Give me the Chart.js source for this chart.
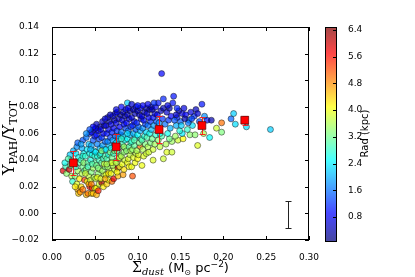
<!DOCTYPE html>
<html>
<head>
<meta charset="utf-8">
<script src="https://cdn.jsdelivr.net/npm/chart.js@4.4.0/dist/chart.umd.min.js"></script>
<style>
  html, body { margin: 0; padding: 0; background: #fff; }
  #grafico { display: block; }
</style>
</head>
<body>
<canvas id="grafico" width="415" height="277"></canvas>
<script>
// dados (uma linha = uma faixa de Sigma_dust)
const sigmaDust = [
  0.013, 0.016, 0.017, 0.015,
  0.020, 0.022, 0.021, 0.023, 0.024, 0.022, 0.025, 0.019,
  0.027, 0.028, 0.029, 0.030, 0.031, 0.029, 0.032, 0.030, 0.028, 0.031, 0.032, 0.030,
  0.034, 0.035, 0.036, 0.034, 0.037, 0.035, 0.036, 0.038, 0.033, 0.037, 0.038, 0.034, 0.036,
  0.040, 0.042, 0.044, 0.041, 0.043, 0.040, 0.042, 0.039, 0.041, 0.043, 0.040, 0.044, 0.042, 0.044, 0.039, 0.043,
  0.046, 0.048, 0.047, 0.050, 0.045, 0.049, 0.046, 0.048, 0.050, 0.045, 0.047, 0.049, 0.046, 0.048, 0.050, 0.046, 0.049, 0.047, 0.050, 0.045,
  0.052, 0.052, 0.055, 0.051, 0.054, 0.056, 0.052, 0.055, 0.053, 0.051, 0.056, 0.053, 0.055, 0.052, 0.054, 0.056, 0.051, 0.054, 0.056, 0.053,
  0.058, 0.060, 0.057, 0.061, 0.059, 0.062, 0.058, 0.060, 0.057, 0.061, 0.059, 0.062, 0.058, 0.060, 0.057, 0.061, 0.059, 0.062, 0.058, 0.061,
  0.064, 0.066, 0.063, 0.067, 0.065, 0.068, 0.064, 0.066, 0.063, 0.067, 0.065, 0.068, 0.064, 0.066, 0.063, 0.067, 0.065, 0.068, 0.064, 0.066,
  0.070, 0.072, 0.069, 0.073, 0.071, 0.074, 0.070, 0.072, 0.069, 0.073, 0.071, 0.074, 0.070, 0.072, 0.069, 0.073, 0.071, 0.074, 0.070, 0.073,
  0.077, 0.077, 0.076, 0.079, 0.075, 0.078, 0.080, 0.076, 0.079, 0.075, 0.078, 0.080, 0.076, 0.079, 0.075, 0.078, 0.080, 0.076, 0.079, 0.077,
  0.083, 0.084, 0.082, 0.085, 0.081, 0.084, 0.086, 0.082, 0.085, 0.083, 0.081, 0.086, 0.084, 0.082, 0.085, 0.083, 0.086, 0.088, 0.084, 0.081,
  0.088, 0.090, 0.093, 0.089, 0.091, 0.087, 0.090, 0.092, 0.088, 0.091, 0.089, 0.092, 0.087, 0.090, 0.088, 0.091, 0.089, 0.092, 0.088,
  0.094, 0.097, 0.095, 0.098, 0.094, 0.096, 0.093, 0.097, 0.095, 0.098, 0.094, 0.096, 0.093, 0.097, 0.095, 0.098, 0.096,
  0.100, 0.103, 0.101, 0.099, 0.102, 0.104, 0.100, 0.103, 0.101, 0.099, 0.104, 0.102, 0.100, 0.103, 0.105,
  0.107, 0.110, 0.106, 0.109, 0.105, 0.108, 0.110, 0.106, 0.109, 0.107, 0.105, 0.108, 0.110, 0.106,
  0.113, 0.112, 0.115, 0.111, 0.114, 0.116, 0.112, 0.115, 0.113, 0.111, 0.114, 0.116,
  0.118, 0.118, 0.120, 0.117, 0.121, 0.119, 0.122, 0.118, 0.120, 0.117, 0.121,
  0.124, 0.130, 0.128, 0.126, 0.130, 0.124, 0.128, 0.125, 0.129, 0.123, 0.127, 0.130, 0.126,
  0.134, 0.140, 0.140, 0.133, 0.137, 0.135, 0.138, 0.132, 0.136, 0.139, 0.134, 0.137, 0.141, 0.142,
  0.147, 0.153, 0.152, 0.144, 0.149, 0.145, 0.150, 0.146, 0.152, 0.148, 0.154, 0.143,
  0.161, 0.167, 0.158, 0.164, 0.160, 0.166, 0.162, 0.168, 0.170, 0.172, 0.175, 0.178, 0.177, 0.170,
  0.181, 0.186, 0.184, 0.192, 0.198, 0.198, 0.209, 0.212, 0.214, 0.227, 0.255,
  0.062, 0.068, 0.075, 0.081, 0.093, 0.100, 0.112, 0.119, 0.135, 0.146, 0.156, 0.159, 0.151, 0.163, 0.145, 0.155, 0.052, 0.048, 0.044, 0.040,
  0.036, 0.046, 0.054, 0.027, 0.062
];
const ratio = [
  0.032, 0.035, 0.030, 0.038,
  0.033, 0.040, 0.044, 0.028, 0.024, 0.036, 0.047, 0.041,
  0.028, 0.045, 0.050, 0.018, 0.015, 0.022, 0.038, 0.032, 0.035, 0.042, 0.026, 0.053,
  0.020, 0.030, 0.035, 0.040, 0.045, 0.049, 0.055, 0.025, 0.016, 0.038, 0.032, 0.052, 0.043,
  0.014, 0.015, 0.020, 0.024, 0.028, 0.033, 0.038, 0.043, 0.048, 0.052, 0.057, 0.060, 0.035, 0.045, 0.030, 0.022,
  0.015, 0.015, 0.019, 0.019, 0.025, 0.027, 0.031, 0.034, 0.038, 0.040, 0.044, 0.047, 0.051, 0.055, 0.058, 0.061, 0.063, 0.037, 0.043, 0.048,
  0.014, 0.019, 0.022, 0.026, 0.030, 0.033, 0.036, 0.040, 0.043, 0.046, 0.049, 0.052, 0.056, 0.059, 0.062, 0.065, 0.064, 0.034, 0.044, 0.027,
  0.023, 0.020, 0.026, 0.029, 0.032, 0.035, 0.038, 0.041, 0.045, 0.048, 0.051, 0.054, 0.057, 0.060, 0.063, 0.066, 0.069, 0.043, 0.047, 0.037,
  0.022, 0.025, 0.029, 0.032, 0.035, 0.038, 0.041, 0.044, 0.048, 0.051, 0.054, 0.057, 0.060, 0.063, 0.066, 0.069, 0.072, 0.046, 0.037, 0.030,
  0.024, 0.026, 0.030, 0.033, 0.036, 0.039, 0.042, 0.045, 0.049, 0.052, 0.055, 0.058, 0.061, 0.064, 0.067, 0.070, 0.073, 0.075, 0.038, 0.047,
  0.028, 0.034, 0.031, 0.035, 0.038, 0.041, 0.044, 0.047, 0.050, 0.053, 0.056, 0.059, 0.062, 0.065, 0.068, 0.071, 0.074, 0.076, 0.042, 0.058,
  0.029, 0.033, 0.037, 0.040, 0.043, 0.046, 0.049, 0.052, 0.055, 0.058, 0.061, 0.064, 0.067, 0.070, 0.073, 0.076, 0.078, 0.083, 0.050, 0.056,
  0.038, 0.035, 0.035, 0.041, 0.044, 0.047, 0.050, 0.053, 0.056, 0.059, 0.062, 0.065, 0.068, 0.071, 0.074, 0.077, 0.079, 0.047, 0.060,
  0.028, 0.038, 0.042, 0.045, 0.048, 0.051, 0.054, 0.057, 0.060, 0.063, 0.066, 0.069, 0.072, 0.075, 0.078, 0.080, 0.055,
  0.041, 0.050, 0.044, 0.047, 0.053, 0.056, 0.059, 0.062, 0.065, 0.068, 0.071, 0.074, 0.077, 0.079, 0.036,
  0.043, 0.045, 0.048, 0.052, 0.055, 0.058, 0.061, 0.064, 0.067, 0.070, 0.073, 0.076, 0.079, 0.081,
  0.046, 0.050, 0.053, 0.057, 0.060, 0.063, 0.066, 0.069, 0.072, 0.075, 0.078, 0.080,
  0.040, 0.048, 0.052, 0.056, 0.059, 0.066, 0.069, 0.072, 0.075, 0.078, 0.080,
  0.083, 0.086, 0.105, 0.050, 0.041, 0.055, 0.058, 0.068, 0.071, 0.074, 0.077, 0.079, 0.060,
  0.046, 0.046, 0.054, 0.052, 0.056, 0.060, 0.064, 0.067, 0.070, 0.073, 0.076, 0.079, 0.083, 0.088,
  0.055, 0.056, 0.060, 0.058, 0.062, 0.066, 0.069, 0.072, 0.075, 0.077, 0.079, 0.070,
  0.059, 0.059, 0.063, 0.066, 0.070, 0.073, 0.076, 0.078, 0.051, 0.069, 0.082, 0.073, 0.060, 0.075,
  0.070, 0.070, 0.057, 0.064, 0.061, 0.068, 0.071, 0.075, 0.067, 0.065, 0.063,
  0.071, 0.074, 0.078, 0.080, 0.082, 0.081, 0.082, 0.083, 0.081, 0.079, 0.074, 0.068, 0.066, 0.071, 0.074, 0.071, 0.067, 0.065, 0.063, 0.060,
  0.018, 0.022, 0.017, 0.020, 0.026
];
const rad = [
  5.9, 2.9, 3.4, 2.6,
  6.0, 2.7, 2.2, 3.6, 2.8, 3.2, 2.0, 3.0,
  3.3, 2.4, 1.8, 4.6, 4.4, 3.9, 3.0, 3.5, 2.8, 2.6, 4.2, 1.5,
  4.3, 3.6, 3.2, 2.9, 2.5, 2.0, 1.4, 5.3, 4.8, 3.4, 3.0, 1.9, 2.7,
  4.5, 5.0, 5.6, 4.0, 3.7, 3.4, 3.1, 2.8, 2.4, 2.1, 1.6, 1.2, 2.9, 2.6, 3.8, 4.7,
  4.4, 4.5, 5.4, 3.9, 3.8, 3.6, 3.3, 3.5, 3.1, 2.7, 2.6, 2.3, 1.9, 1.4, 1.0, 0.8, 0.6, 3.0, 2.8, 2.1,
  4.6, 4.1, 3.8, 3.7, 3.4, 3.6, 3.2, 2.9, 2.7, 2.4, 2.1, 1.7, 1.3, 1.0, 0.7, 0.5, 0.9, 3.3, 2.9, 4.0,
  6.2, 4.2, 3.9, 3.7, 3.5, 3.3, 3.1, 2.9, 2.6, 2.3, 1.9, 1.5, 1.2, 0.9, 0.7, 0.5, 0.6, 3.0, 3.4, 3.8,
  4.4, 4.1, 3.9, 3.7, 3.5, 3.2, 3.0, 2.7, 2.4, 2.1, 1.7, 1.3, 1.0, 0.8, 0.6, 0.4, 0.7, 3.3, 3.6, 4.3,
  5.0, 5.8, 4.0, 3.8, 3.6, 3.4, 3.2, 2.9, 2.6, 2.3, 1.9, 1.5, 1.1, 0.9, 0.7, 0.5, 0.6, 0.8, 3.9, 3.4,
  4.5, 6.0, 4.1, 3.9, 3.7, 3.5, 3.3, 3.1, 2.8, 2.5, 2.1, 1.6, 1.2, 0.9, 0.7, 0.5, 0.4, 0.7, 3.8, 1.9,
  4.7, 4.3, 4.0, 3.8, 3.6, 3.4, 3.2, 2.9, 2.6, 2.2, 1.7, 1.3, 1.0, 0.7, 0.5, 0.4, 0.8, 2.2, 3.5, 2.8,
  4.0, 4.1, 4.0, 3.9, 3.7, 3.4, 3.1, 2.8, 2.5, 2.1, 1.6, 1.2, 0.9, 0.7, 0.5, 0.4, 0.8, 3.6, 2.3,
  5.2, 4.0, 3.9, 3.7, 3.4, 3.1, 2.8, 2.4, 2.0, 1.5, 1.1, 0.8, 0.6, 0.5, 0.4, 0.8, 3.0,
  4.1, 5.0, 3.9, 3.6, 3.2, 2.9, 2.5, 2.0, 1.5, 1.1, 0.8, 0.6, 0.4, 0.7, 4.0,
  3.9, 3.8, 3.6, 3.3, 3.0, 2.7, 2.3, 1.8, 1.3, 1.0, 0.7, 0.5, 0.4, 0.9,
  3.8, 3.6, 3.3, 3.0, 2.6, 2.1, 1.6, 1.2, 0.9, 0.6, 0.4, 0.7,
  3.9, 3.8, 3.5, 3.2, 2.8, 1.9, 1.4, 1.0, 0.7, 0.4, 0.8,
  1.0, 1.1, 0.9, 3.7, 3.8, 3.4, 3.0, 1.8, 1.2, 0.8, 0.5, 0.4, 2.6,
  3.9, 3.8, 3.5, 3.6, 3.2, 2.6, 2.0, 1.6, 1.2, 0.9, 0.6, 0.4, 1.0, 1.0,
  3.8, 4.1, 2.4, 3.5, 2.7, 2.0, 1.5, 1.1, 0.8, 0.5, 0.7, 1.4,
  3.4, 3.4, 2.8, 2.3, 1.8, 1.2, 0.7, 0.5, 3.9, 1.4, 1.0, 1.8, 3.6, 0.6,
  1.0, 0.4, 2.5, 3.8, 3.3, 5.0, 1.5, 2.2, 2.3, 2.3, 2.2,
  0.6, 0.5, 0.7, 0.9, 0.6, 1.0, 0.8, 1.2, 0.7, 1.1, 0.9, 1.6, 2.2, 1.3, 0.6, 0.4, 0.5, 0.9, 1.4, 1.8,
  5.0, 4.9, 5.5, 4.2, 4.6
];

// medias por faixa (quadrados vermelhos)
const binX = [0.025, 0.075, 0.125, 0.175, 0.225];
const binY = [0.038, 0.050, 0.063, 0.066, 0.070];
const binErr = [0.009, 0.010, 0.010, 0.0065, 0.0035];

// barra de erro tipica (canto inferior direito)
const typX = 0.275;
const typY = -0.001;
const typErr = 0.010;

// eixos
const xTicks = [0, 0.05, 0.10, 0.15, 0.20, 0.25, 0.30];
const xTickLabels = ['0.00', '0.05', '0.10', '0.15', '0.20', '0.25', '0.30'];
const yTicks = [-0.02, 0, 0.02, 0.04, 0.06, 0.08, 0.10, 0.12, 0.14];
const yTickLabels = ['\u22120.02', '0.00', '0.02', '0.04', '0.06', '0.08', '0.10', '0.12', '0.14'];
const radTicks = [0.8, 1.6, 2.4, 3.2, 4.0, 4.8, 5.6, 6.4];
const radTickLabels = ['0.8', '1.6', '2.4', '3.2', '4.0', '4.8', '5.6', '6.4'];
const radMin = 0.11;
const radMax = 6.49;

// mapa de cores "jet"
function jet(v, a) {
  let t = (v - radMin) / (radMax - radMin);
  t = Math.max(0, Math.min(1, t));
  const f = c => Math.round(255 * Math.max(0, Math.min(1, c)));
  const r = f(1.5 - Math.abs(4 * t - 3));
  const g = f(1.5 - Math.abs(4 * t - 2));
  const b = f(1.5 - Math.abs(4 * t - 1));
  return `rgba(${r},${g},${b},${a})`;
}

const tickFont = { family: 'DejaVu Sans', size: 9 };

// desenha uma sequencia de pedacos de texto (para sub/sobrescritos)
function drawPieces(ctx, pieces, cx, baseY) {
  let total = 0;
  pieces.forEach(p => { ctx.font = p.font; total += ctx.measureText(p.t).width; });
  let x = cx - total / 2;
  pieces.forEach(p => {
    ctx.font = p.font;
    ctx.fillText(p.t, x, baseY + (p.dy || 0));
    x += ctx.measureText(p.t).width;
  });
}

const extras = {
  id: 'extras',
  afterDatasetDraw(chart, args) {
    // depois da nuvem de pontos (indice 1) e antes dos quadrados
    if (args.index !== 1) return;
    const ctx = chart.ctx, sx = chart.scales.x, sy = chart.scales.y;
    ctx.save();
    ctx.strokeStyle = 'rgba(255,20,20,0.9)';
    ctx.lineWidth = 1;
    binX.forEach((bx, i) => {
      const px = Math.round(sx.getPixelForValue(bx)) + 0.5;
      const top = Math.round(sy.getPixelForValue(binY[i] + binErr[i])) + 0.5;
      const bot = Math.round(sy.getPixelForValue(binY[i] - binErr[i])) + 0.5;
      ctx.beginPath();
      ctx.moveTo(px, top); ctx.lineTo(px, bot);
      ctx.moveTo(px - 3, top); ctx.lineTo(px + 3, top);
      ctx.moveTo(px - 3, bot); ctx.lineTo(px + 3, bot);
      ctx.stroke();
    });
    ctx.restore();
  },
  afterDraw(chart) {
    const ctx = chart.ctx, a = chart.chartArea;
    const sx = chart.scales.x, sy = chart.scales.y, cb = chart.scales.cb;
    ctx.save();

    // barra de erro tipica
    ctx.strokeStyle = '#222';
    ctx.lineWidth = 1;
    const ex = Math.round(sx.getPixelForValue(typX)) + 0.5;
    const et = Math.round(sy.getPixelForValue(typY + typErr)) + 0.5;
    const eb = Math.round(sy.getPixelForValue(typY - typErr)) + 0.5;
    ctx.beginPath();
    ctx.moveTo(ex, et); ctx.lineTo(ex, eb);
    ctx.moveTo(ex - 3, et); ctx.lineTo(ex + 3, et);
    ctx.moveTo(ex - 3, eb); ctx.lineTo(ex + 3, eb);
    ctx.stroke();

    // moldura e ticks para dentro
    ctx.strokeStyle = '#000';
    ctx.strokeRect(a.left + 0.5, a.top + 0.5, a.right - a.left - 1, a.bottom - a.top - 1);
    ctx.beginPath();
    xTicks.forEach(v => {
      const px = Math.round(sx.getPixelForValue(v)) + 0.5;
      ctx.moveTo(px, a.bottom); ctx.lineTo(px, a.bottom - 4);
      ctx.moveTo(px, a.top); ctx.lineTo(px, a.top + 4);
    });
    yTicks.forEach(v => {
      const py = Math.round(sy.getPixelForValue(v)) + 0.5;
      ctx.moveTo(a.left, py); ctx.lineTo(a.left + 4, py);
      ctx.moveTo(a.right, py); ctx.lineTo(a.right - 4, py);
    });
    ctx.stroke();

    // barra de cores
    const bx1 = cb.left, bx0 = bx1 - 11;
    for (let py = Math.round(cb.top); py < Math.round(cb.bottom) + 2; py++) {
      ctx.fillStyle = jet(cb.getValueForPixel(py + 0.5), 0.72);
      ctx.fillRect(bx0, py, 11, 1);
    }
    ctx.strokeStyle = '#000';
    ctx.strokeRect(bx0 + 0.5, Math.round(cb.top) + 0.5, 11, Math.round(cb.bottom) - Math.round(cb.top) + 1);
    ctx.beginPath();
    radTicks.forEach(v => {
      const py = Math.round(cb.getPixelForValue(v)) + 0.5;
      ctx.moveTo(bx1, py); ctx.lineTo(bx1 - 3, py);
    });
    ctx.stroke();

    // titulos
    ctx.fillStyle = '#000';
    ctx.textBaseline = 'alphabetic';
    ctx.textAlign = 'left';
    drawPieces(ctx, [
      { t: '\u03A3', font: '14px "DejaVu Serif"' },
      { t: 'dust', font: 'italic 10px "DejaVu Serif"', dy: 3 },
      { t: ' (M', font: '13px "DejaVu Sans"' },
      { t: '\u2299', font: '8px "DejaVu Sans"', dy: 3 },
      { t: ' pc', font: '13px "DejaVu Sans"' },
      { t: '\u22122', font: '9px "DejaVu Sans"', dy: -5 },
      { t: ')', font: '13px "DejaVu Sans"' }
    ], (a.left + a.right) / 2, 272);

    ctx.save();
    ctx.translate(14, 138);
    ctx.rotate(-Math.PI / 2);
    drawPieces(ctx, [
      { t: 'Y', font: '16px "DejaVu Serif"' },
      { t: 'PAH', font: '11px "DejaVu Serif"', dy: 3 },
      { t: '/', font: '16px "DejaVu Serif"' },
      { t: 'Y', font: '16px "DejaVu Serif"' },
      { t: 'TOT', font: '11px "DejaVu Serif"', dy: 3 }
    ], 0, 0);
    ctx.restore();

    ctx.save();
    ctx.translate(368, (cb.top + cb.bottom) / 2);
    ctx.rotate(-Math.PI / 2);
    drawPieces(ctx, [{ t: 'Rad (kpc)', font: '10px "DejaVu Sans"' }], 0, 0);
    ctx.restore();

    ctx.restore();
  }
};

let chart = new Chart(document.getElementById('grafico').getContext('2d'), {
  type: 'scatter',
  data: {
    datasets: [
      {
        // medias (indice 0 = desenhado por cima)
        data: binX.map((v, i) => ({ x: v, y: binY[i] })),
        pointStyle: 'rect',
        pointRadius: 5.5,
        pointBackgroundColor: '#ff0000',
        pointBorderColor: 'rgba(90,0,0,0.9)',
        pointBorderWidth: 0.8,
        xAxisID: 'x',
        yAxisID: 'y'
      },
      {
        data: sigmaDust.map((v, i) => ({ x: v, y: ratio[i] })),
        pointRadius: 3,
        pointBackgroundColor: rad.map(r => jet(r, 0.7)),
        pointBorderColor: 'rgba(20,20,20,0.6)',
        pointBorderWidth: 0.8,
        xAxisID: 'x',
        yAxisID: 'y'
      }
    ]
  },
  options: {
    responsive: false,
    animation: false,
    devicePixelRatio: 1,
    layout: { padding: { top: 27, left: 0, right: 0, bottom: 0 } },
    plugins: { legend: { display: false }, tooltip: { enabled: false } },
    scales: {
      x: {
        type: 'linear', position: 'bottom', min: 0, max: 0.3,
        afterBuildTicks: s => { s.ticks = xTicks.map(v => ({ value: v })); },
        afterFit: s => { s.height = 37; },
        grid: { display: false },
        border: { display: false },
        ticks: { padding: 4, color: '#000', font: tickFont, maxRotation: 0, autoSkip: false,
                 callback: (v, i) => xTickLabels[i] }
      },
      y: {
        type: 'linear', position: 'left', min: -0.02, max: 0.14,
        afterBuildTicks: s => { s.ticks = yTicks.map(v => ({ value: v })); },
        afterFit: s => { s.width = 52; },
        grid: { display: false },
        border: { display: false },
        ticks: { padding: 5, color: '#000', font: tickFont, autoSkip: false,
                 callback: (v, i) => yTickLabels[i] }
      },
      sp: {
        type: 'linear', position: 'right', weight: 0, min: 0, max: 1,
        afterFit: s => { s.width = 27; },
        grid: { display: false },
        border: { display: false },
        ticks: { display: false }
      },
      cb: {
        type: 'linear', position: 'right', weight: 1, min: radMin, max: radMax,
        afterBuildTicks: s => { s.ticks = radTicks.map(v => ({ value: v })); },
        afterFit: s => { s.width = 79; },
        grid: { display: false },
        border: { display: false },
        ticks: { padding: 4, color: '#000', font: tickFont, autoSkip: false,
                 callback: (v, i) => radTickLabels[i] }
      }
    }
  },
  plugins: [extras]
});
</script>
</body>
</html>
